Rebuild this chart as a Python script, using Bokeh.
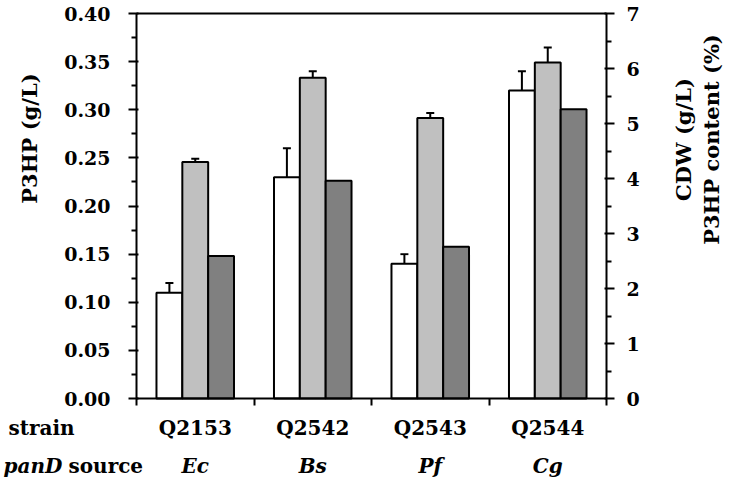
import numpy as np
from bokeh.plotting import figure
from bokeh.models import (Range1d, LinearAxis, FixedTicker, Label, Whisker,
                          ColumnDataSource, NumeralTickFormatter, TeeHead)
from bokeh.embed import file_html
from bokeh.resources import INLINE

# ---- data ----
strains = ["Q2153", "Q2542", "Q2543", "Q2544"]
sources = ["Ec", "Bs", "Pf", "Cg"]
p3hp = [0.11, 0.23, 0.14, 0.32]          # g/L (left axis)
p3hp_err = [0.01, 0.03, 0.01, 0.02]
cdw = [4.30, 5.83, 5.10, 6.11]           # g/L (right axis)
cdw_err = [0.06, 0.12, 0.09, 0.27]
content = [2.59, 3.96, 2.76, 5.26]       # % (right axis)
left_ticks = [0.0, 0.05, 0.10, 0.15, 0.20, 0.25, 0.30, 0.35, 0.40]
right_ticks = [0, 1, 2, 3, 4, 5, 6, 7]
LEFT_MAX, RIGHT_MAX = 0.4, 7.0

FONT = "DejaVu Serif"
W, H = 725, 482
n = len(strains)
# plot box in page pixels
BX0, BX1, BY0, BY1 = 136, 606, 13, 398
sx = (BX1 - BX0) / n             # px per category unit
sy = (BY1 - BY0) / LEFT_MAX      # px per left-axis unit
ratio = RIGHT_MAX / LEFT_MAX

def X(px):
    return (px - BX0) / sx
def Y(py):
    return (BY1 - py) / sy

centers = np.arange(n) + 0.5
bw = 0.22

src = ColumnDataSource(dict(
    xw=centers - bw, xl=centers, xd=centers + bw,
    p3hp=p3hp, p3hp_up=np.array(p3hp) + np.array(p3hp_err), p3hp_lo=np.array(p3hp) - np.array(p3hp_err),
    cdw=cdw, cdw_up=np.array(cdw) + np.array(cdw_err), cdw_lo=np.array(cdw) - np.array(cdw_err),
    content=content,
))

p = figure(width=W, height=H, output_backend="svg", toolbar_location=None,
           x_range=Range1d(X(0), X(W)), y_range=Range1d(Y(H), Y(0)),
           x_axis_location=None, y_axis_location=None,
           min_border=0)
p.extra_y_ranges = {"right": Range1d(Y(H) * ratio, Y(0) * ratio)}
p.grid.visible = False
p.outline_line_color = None
p.background_fill_color = "white"
p.border_fill_color = "white"

# bars
p.vbar(x="xw", top="p3hp", width=bw, bottom=0, source=src,
       fill_color="white", line_color="black", line_width=2)
p.vbar(x="xl", top="cdw", width=bw, bottom=0, source=src, y_range_name="right",
       fill_color="#c0c0c0", line_color="black", line_width=2)
p.vbar(x="xd", top="content", width=bw, bottom=0, source=src, y_range_name="right",
       fill_color="#808080", line_color="black", line_width=2)

# error bars
def head():
    return TeeHead(size=8, line_width=2, line_color="black")
p.add_layout(Whisker(base="xw", upper="p3hp_up", lower="p3hp_lo", source=src,
                     line_color="black", line_width=2, upper_head=head(), lower_head=head()))
p.add_layout(Whisker(base="xl", upper="cdw_up", lower="cdw_lo", source=src, y_range_name="right",
                     line_color="black", line_width=2, upper_head=head(), lower_head=head()))

def style_axis(ax, tick_out=8, tick_in=2, minor_out=5, standoff=10):
    ax.axis_line_width = 2
    ax.axis_line_color = "black"
    ax.major_tick_line_width = 2
    ax.minor_tick_line_width = 2
    ax.major_tick_out = tick_out
    ax.major_tick_in = tick_in
    ax.minor_tick_out = minor_out
    ax.minor_tick_in = 0
    ax.major_label_standoff = standoff
    ax.major_label_text_font = FONT
    ax.major_label_text_font_style = "bold"
    ax.major_label_text_font_size = "19px"
    ax.major_label_text_color = "black"

# left axis
la = LinearAxis(fixed_location=0, bounds=(0, LEFT_MAX),
                ticker=FixedTicker(ticks=left_ticks,
                                   minor_ticks=[t + 0.025 for t in left_ticks[:-1]]),
                formatter=NumeralTickFormatter(format="0.00"))
style_axis(la, standoff=18)
p.add_layout(la, "left")

# right axis
ra = LinearAxis(y_range_name="right", fixed_location=n, bounds=(0, RIGHT_MAX),
                ticker=FixedTicker(ticks=right_ticks,
                                   minor_ticks=[t + 0.5 for t in right_ticks[:-1]]))
style_axis(ra, standoff=12)
p.add_layout(ra, "right")

# bottom axis (ticks at group boundaries, no labels)
ba = LinearAxis(fixed_location=0, bounds=(0, n),
                ticker=FixedTicker(ticks=list(range(n + 1)), minor_ticks=[]))
style_axis(ba, tick_out=7, tick_in=0)
ba.major_label_text_color = None
p.add_layout(ba, "below")

# top border line
ta = LinearAxis(fixed_location=LEFT_MAX, bounds=(0, n),
                ticker=FixedTicker(ticks=[], minor_ticks=[]))
style_axis(ta, tick_out=0, tick_in=0)
ta.major_label_text_color = None
p.add_layout(ta, "above")

def lab(text, x, y, size="20px", style="bold", align="center", angle=0.0):
    p.add_layout(Label(x=x, y=y, text=text, text_font=FONT, text_font_style=style,
                       text_font_size=size, text_align=align, text_baseline="middle",
                       text_color="black", angle=angle))

# axis titles
lab("P3HP (g/L)", X(29), Y(138), size="21px", angle=np.pi / 2)
lab("CDW (g/L)", X(683), Y(139), size="21px", angle=np.pi / 2)
lab("P3HP content (%)", X(711), Y(139), size="21px", angle=np.pi / 2)

# category rows
ROW1, ROW2 = 427, 465
lab("strain", X(8), Y(ROW1), align="left")
lab("panD", X(3), Y(ROW2), style="bold italic", align="left")
lab("source", X(68), Y(ROW2), align="left")
for c, s, so in zip(centers, strains, sources):
    lab(s, c, Y(ROW1))
    lab(so, c, Y(ROW2), style="bold italic")

open("out.html", "w").write(file_html(p, INLINE))
